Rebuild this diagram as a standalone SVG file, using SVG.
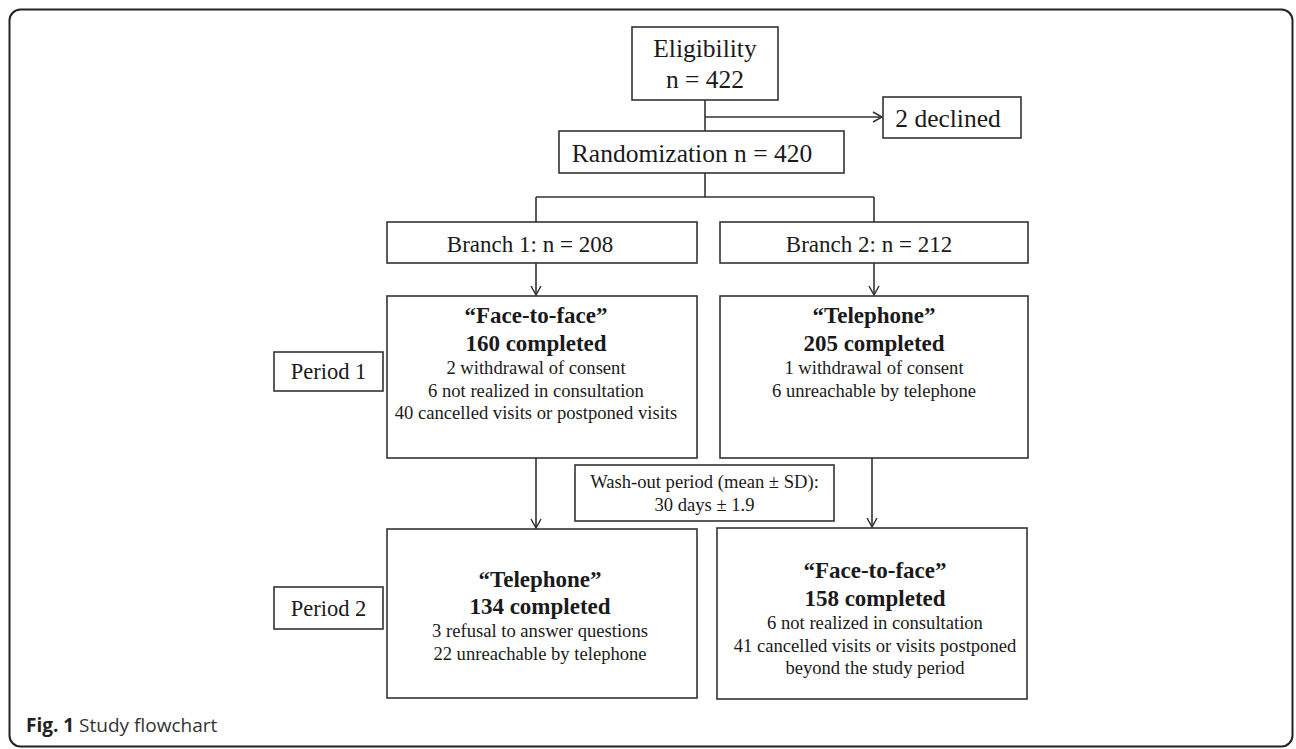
<svg xmlns="http://www.w3.org/2000/svg" width="1296" height="749" viewBox="0 0 1296 749">
<style>
.box{fill:#fff;stroke:#333;stroke-width:1.6}
.t{font-family:"Liberation Serif","Times New Roman",serif;fill:#1a1a1a;text-anchor:middle}
.l{font-size:25.5px}
.p{font-size:22.5px}
.m{font-size:23px}
.s{font-size:18.6px}
.b{font-size:23px;font-weight:bold}
.c{fill:none;stroke:#333;stroke-width:1.6}
</style>
<defs>
<marker id="ah" markerWidth="12" markerHeight="12" refX="10" refY="6" orient="auto" markerUnits="userSpaceOnUse">
<path d="M1,1 L10,6 L1,11" fill="none" stroke="#333" stroke-width="1.5"/>
</marker>
</defs>
<rect x="9.5" y="9.5" width="1283" height="737" rx="11" fill="#fff" stroke="#222" stroke-width="2"/>
<g id="connectors">
<path class="c" d="M705,100 V131"/>
<path class="c" d="M705,117 H882" marker-end="url(#ah)"/>
<path class="c" d="M705,173 V197 M536,197 H874 M536,197 V222 M874,197 V222"/>
<path class="c" d="M536,263 V295" marker-end="url(#ah)"/>
<path class="c" d="M874,263 V295" marker-end="url(#ah)"/>
<path class="c" d="M536,458 V528" marker-end="url(#ah)"/>
<path class="c" d="M872,458 V527" marker-end="url(#ah)"/>
</g>
<g id="eligibility">
<rect class="box" x="632" y="27" width="146" height="73"/>
<text class="t l" x="705" y="57">Eligibility</text>
<text class="t l" x="705" y="88">n = 422</text>
</g>
<g id="declined">
<rect class="box" x="883" y="97" width="138" height="41"/>
<text class="t l" x="948" y="127">2 declined</text>
</g>
<g id="randomization">
<rect class="box" x="559" y="131" width="285" height="42"/>
<text class="t l" x="692" y="162">Randomization n = 420</text>
</g>
<g id="branch1">
<rect class="box" x="387" y="222" width="310" height="41"/>
<text class="t m" x="530" y="252">Branch 1: n = 208</text>
</g>
<g id="branch2">
<rect class="box" x="720" y="222" width="308" height="41"/>
<text class="t m" x="869" y="252">Branch 2: n = 212</text>
</g>
<g id="period1">
<rect class="box" x="274" y="352" width="109" height="39"/>
<text class="t p" x="328.5" y="379">Period 1</text>
</g>
<g id="p1-facetoface">
<rect class="box" x="387" y="296" width="310" height="162"/>
<text class="t b" x="536" y="323">“Face-to-face”</text>
<text class="t b" x="536" y="351">160 completed</text>
<text class="t s" x="536" y="374">2 withdrawal of consent</text>
<text class="t s" x="536" y="396.5">6 not realized in consultation</text>
<text class="t s" x="536" y="419">40 cancelled visits or postponed visits</text>
</g>
<g id="p1-telephone">
<rect class="box" x="720" y="296" width="308" height="162"/>
<text class="t b" x="874" y="323">“Telephone”</text>
<text class="t b" x="874" y="351">205 completed</text>
<text class="t s" x="874" y="374">1 withdrawal of consent</text>
<text class="t s" x="874" y="396.5">6 unreachable by telephone</text>
</g>
<g id="washout">
<rect class="box" x="575" y="465" width="259" height="56"/>
<text class="t s" x="704.5" y="488">Wash-out period (mean ± SD):</text>
<text class="t s" x="704.5" y="511">30 days ± 1.9</text>
</g>
<g id="period2">
<rect class="box" x="274" y="587" width="109" height="42"/>
<text class="t p" x="328.5" y="616">Period 2</text>
</g>
<g id="p2-telephone">
<rect class="box" x="387" y="529" width="310" height="169"/>
<text class="t b" x="540" y="587">“Telephone”</text>
<text class="t b" x="540" y="614">134 completed</text>
<text class="t s" x="540" y="637">3 refusal to answer questions</text>
<text class="t s" x="540" y="659.5">22 unreachable by telephone</text>
</g>
<g id="p2-facetoface">
<rect class="box" x="717" y="528" width="310" height="171"/>
<text class="t b" x="875" y="578">“Face-to-face”</text>
<text class="t b" x="875" y="606">158 completed</text>
<text class="t s" x="875" y="629">6 not realized in consultation</text>
<text class="t s" x="875" y="651.5">41 cancelled visits or visits postponed</text>
<text class="t s" x="875" y="674">beyond the study period</text>
</g>
<g id="caption">
<text x="26" y="732" font-family="'Open Sans','Noto Sans',sans-serif" font-size="19px" fill="#333"><tspan font-weight="bold" fill="#222">Fig. 1</tspan> Study flowchart</text>
</g>
</svg>
